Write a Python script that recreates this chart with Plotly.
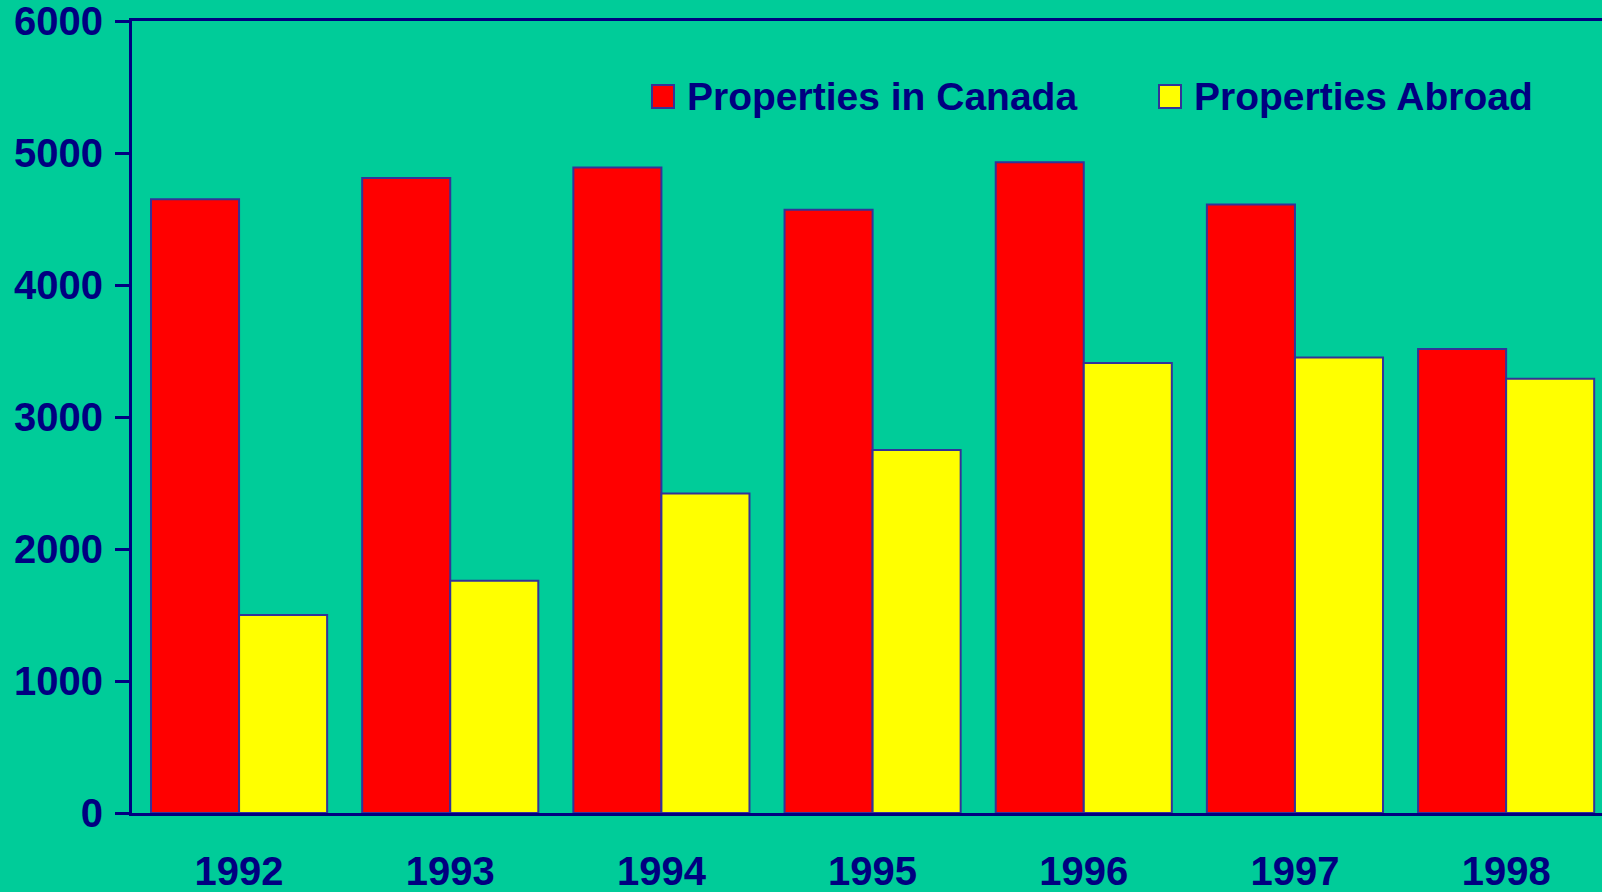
import plotly.graph_objects as go

years = ["1992", "1993", "1994", "1995", "1996", "1997", "1998"]
canada = [4650, 4810, 4890, 4570, 4930, 4610, 3515]
abroad = [1500, 1760, 2420, 2750, 3410, 3450, 3290]
series_names = ["Properties in Canada", "Properties Abroad"]
y_ticks = [0, 1000, 2000, 3000, 4000, 5000, 6000]

NAVY = "#000080"
EDGE = "#333399"
BG = "#00CC99"
FONT = "Liberation Sans, Arial, sans-serif"
FS = 40

fig = go.Figure()
fig.add_trace(go.Bar(x=years, y=canada, name=series_names[0],
                     marker=dict(color="#FF0000", line=dict(color=EDGE, width=2))))
fig.add_trace(go.Bar(x=years, y=abroad, name=series_names[1],
                     marker=dict(color="#FFFF00", line=dict(color=EDGE, width=2))))

W, H = 1602, 892
L, R, T, B = 132, 0, 21, 79
pw, ph = W - L - R, H - T - B

def px(x):
    return (x - L) / pw

def py(y):
    return (H - B - y) / ph

# custom legend
leg = [(652, 685, "#FF0000", series_names[0]), (1159, 1192, "#FFFF00", series_names[1])]
for sx, tx, col, name in leg:
    fig.add_shape(type="rect", xref="paper", yref="paper",
                  x0=px(sx), x1=px(sx + 22), y0=py(108), y1=py(85),
                  fillcolor=col, line=dict(color=EDGE, width=2))
    fig.add_annotation(xref="paper", yref="paper", x=px(tx), y=py(96),
                       xanchor="left", yanchor="middle", text=name, showarrow=False,
                       font=dict(family=FONT, size=39, color=NAVY, weight="bold"))

fig.update_layout(
    width=W, height=H,
    margin=dict(l=L, r=R, t=T, b=B, pad=0),
    paper_bgcolor=BG, plot_bgcolor=BG,
    barmode="group", bargap=0.166, bargroupgap=0,
    showlegend=False,
    font=dict(family=FONT, size=FS, color=NAVY, weight="bold"),
)
fig.update_xaxes(type="category", range=[-0.507, 6.454], showgrid=False, zeroline=False,
                 showline=True, linecolor=NAVY, linewidth=3, mirror=True,
                 ticks="", ticklabelstandoff=21, automargin=False, ticklabeloverflow="allow",
                 tickfont=dict(family=FONT, size=FS, color=NAVY, weight="bold"))
fig.update_yaxes(range=[0, 6000], tickvals=y_ticks, showgrid=False, zeroline=False,
                 showline=True, linecolor=NAVY, linewidth=3,
                 ticks="outside", ticklen=14, tickwidth=3, tickcolor=NAVY,
                 ticklabelstandoff=4, automargin=False, ticklabeloverflow="allow",
                 tickfont=dict(family=FONT, size=FS, color=NAVY, weight="bold"))

fig.write_html("out.html", config={"displayModeBar": False},
               post_script="document.body.style.margin='0';document.body.style.overflow='hidden';")
